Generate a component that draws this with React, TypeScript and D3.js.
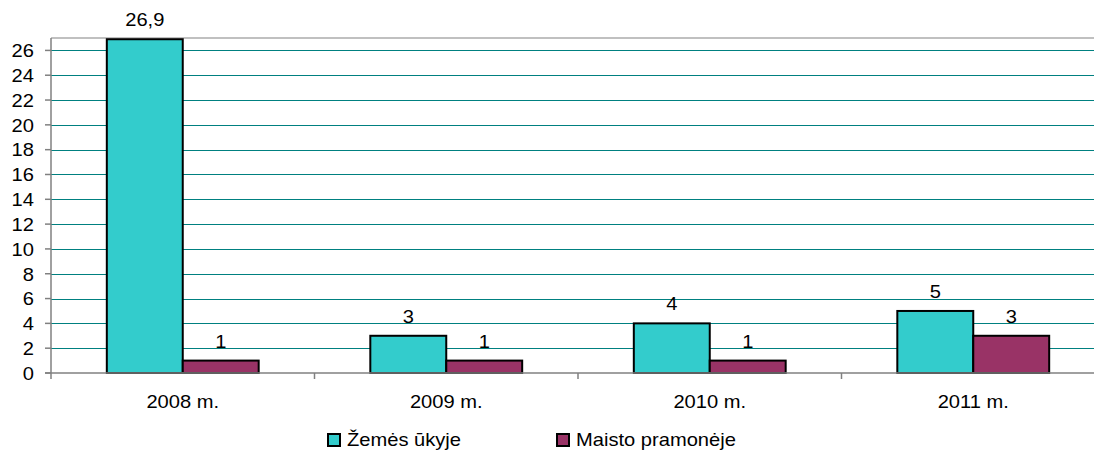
import React from "react";
import * as d3 from "d3";

const categories = ["2008 m.", "2009 m.", "2010 m.", "2011 m."];
const seriesNames = ["Žemės ūkyje", "Maisto pramonėje"];
const agriculture = [26.9, 3, 4, 5];
const foodIndustry = [1, 1, 1, 3];
const yTicks = [0, 2, 4, 6, 8, 10, 12, 14, 16, 18, 20, 22, 24, 26];
const colors = ["#33CCCC", "#993366"];

const W = 1094, H = 452;
const left = 51, right = 1105, top = 38, bottom = 373;
const FS = 17.5;
const SX = 1.15;

function T({ x, y, anchor, children }: { x: number; y: number; anchor?: string; children: React.ReactNode }) {
  return (
    <text transform={`translate(${x},${y}) scale(${SX},1)`} textAnchor={anchor || "start"} fontSize={FS} fill="#000">
      {children}
    </text>
  );
}

export default function App() {
  const x = d3.scaleBand<string>().domain(categories).range([left, right]).paddingInner(0).paddingOuter(0);
  const y = d3.scaleLinear().domain([0, 27]).range([bottom, top]);
  const bw = x.bandwidth() / 3.47;
  const series = [agriculture, foodIndustry];
  const fmt = (v: number) => String(v).replace(".", ",");
  const font = "'Liberation Sans', Arial, sans-serif";
  return (
    <svg width={W} height={H} style={{ position: "absolute", left: 0, top: 0, fontFamily: font }}>
      <rect width={W} height={H} fill="#fff" />
      <line x1={left} x2={right} y1={top} y2={top} stroke="#c0c0c0" strokeWidth={2} />
      {yTicks.filter(t => t > 0).map(t => (
        <line key={t} x1={left} x2={right} y1={Math.round(y(t)) + 0.5} y2={Math.round(y(t)) + 0.5} stroke="#008080" strokeWidth={1} />
      ))}
      {categories.map((c, i) => {
        const cx = (x(c) as number) + x.bandwidth() / 2;
        return series.map((s, j) => {
          const x0 = cx - bw + j * bw;
          return (
            <g key={c + j}>
              <rect x={x0} y={y(s[i])} width={bw} height={y(0) - y(s[i])} fill={colors[j]} stroke="#000" strokeWidth={2} />
              <T x={x0 + bw / 2} y={y(s[i]) - 13} anchor="middle">{fmt(s[i])}</T>
            </g>
          );
        });
      })}
      <line x1={left} x2={left} y1={top} y2={bottom + 6} stroke="#808080" strokeWidth={1.5} />
      <line x1={left - 6} x2={right} y1={bottom} y2={bottom} stroke="#808080" strokeWidth={1.5} />
      {yTicks.map(t => (
        <g key={t}>
          <line x1={left - 6} x2={left} y1={y(t)} y2={y(t)} stroke="#808080" strokeWidth={1.5} />
          <T x={34} y={y(t) + 6.8} anchor="end">{t}</T>
        </g>
      ))}
      {categories.map((c, i) => (
        <g key={c}>
          {i > 0 && <line x1={x(c) as number} x2={x(c) as number} y1={bottom} y2={bottom + 6} stroke="#808080" strokeWidth={1.5} />}
          <T x={(x(c) as number) + x.bandwidth() / 2} y={408} anchor="middle">{c}</T>
        </g>
      ))}
      {seriesNames.map((n, j) => {
        const lx = j === 0 ? 328 : 557;
        return (
          <g key={n}>
            <rect x={lx} y={434} width={12} height={12} fill={colors[j]} stroke="#000" strokeWidth={2} />
            <T x={lx + 19} y={446}>{n}</T>
          </g>
        );
      })}
    </svg>
  );
}
